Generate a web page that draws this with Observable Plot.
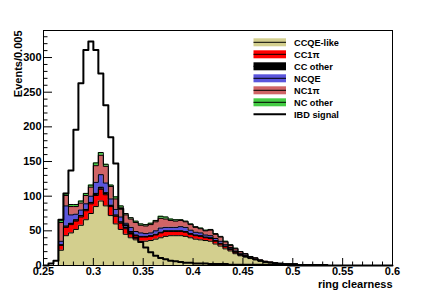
<!DOCTYPE html>
<html><head><meta charset="utf-8">
<script src="https://cdn.jsdelivr.net/npm/d3@7"></script>
<script src="https://cdn.jsdelivr.net/npm/@observablehq/plot@0.6"></script>
<style>body{margin:0;background:#fff}#c{width:436px;height:295px}</style>
</head><body><div id="c"></div>
<script>
// ---- data ----
const binStart = 0.25;
const binWidth = 0.005;
const series = ["CCQE-like", "CC1\u03c0", "CC other", "NCQE", "NC1\u03c0", "NC other"];
const colors = ["#d3cf8e", "#ff0000", "#000000", "#5a55dc", "#d06466", "#44cc44"];
const ccqe    = [0,0,0,22,43,47,52,58,66,75,85,93,86,72,60,52,45,40,37,35,35,36,38,40,42,43,43,43,42,40,38,37,36,35,31,28,24,21,17,14,12,10,8,6,5,4,3,3,2,2,2,1,1,1,1,1,1,0,0,0,0,0,0,0,0,0,0,0,0,0];
const cc1pi   = [0,0,0,7,12,12,12,12,13,14,16,17,16,13,11,9,8,7,6,6,6,6,6,7,7,6,6,6,6,5,5,5,4,4,4,3,3,2,2,1,1,1,1,1,0,0,0,0,0,0,0,0,0,0,0,0,0,0,0,0,0,0,0,0,0,0,0,0,0,0];
const ccother = [0,0,0,1,2,2,2,2,2,2,3,3,3,2,2,2,2,2,1,1,1,1,1,1,1,1,1,1,1,1,1,1,1,1,1,1,1,1,1,1,1,0,0,0,0,0,0,0,0,0,0,0,0,0,0,0,0,0,0,0,0,0,0,0,0,0,0,0,0,0];
const ncqe    = [0,0,0,5,29,12,8,8,8,9,16,18,14,9,8,7,6,6,5,5,4,4,5,6,5,5,5,6,6,5,4,4,3,3,3,3,2,2,1,1,1,0,0,0,0,0,0,0,0,0,0,0,0,0,0,0,0,0,0,0,0,0,0,0,0,0,0,0,0,0];
const nc1pi   = [0,0,0,27,15,12,11,10,12,13,24,28,24,18,15,13,12,12,13,11,11,12,13,14,12,10,9,9,8,8,7,6,6,8,6,6,4,3,3,3,2,2,2,1,1,1,1,0,0,0,0,0,0,0,0,0,0,0,0,0,0,0,0,0,0,0,0,0,0,0];
const ncother = [0,0,0,4,3,3,3,3,3,3,4,4,3,2,3,3,2,2,2,2,2,2,2,3,3,2,2,1,1,1,1,1,1,1,1,1,1,1,1,0,0,0,0,0,0,0,0,0,0,0,0,0,0,0,0,0,0,0,0,0,0,0,0,0,0,0,0,0,0,0];
const ibd     = [0,3,7,66,104,137,196,263,311,323,311,277,231,185,147,82,58,46,40,34,26,19,14,11,9,7,6,5,4,4,3,3,3,2,2,2,2,1,1,1,1,1,1,1,1,1,1,1,1,0,0,0,0,0,0,0,0,0,0,0,0,0,0,0,0,0,0,0,0,0];
const xTicks = [0.25, 0.3, 0.35, 0.4, 0.45, 0.5, 0.55, 0.6];
const yTicks = [0, 50, 100, 150, 200, 250, 300];
const xLabel = "ring clearness";
const yLabel = "Events/0.005";

// ---- build tables ----
const W = 436, H = 295, mL = 43, mR = 44, mT = 30, mB = 30;
const xDom = [0.25, 0.6], yDom = [0, 339];
const pxX = (xDom[1] - xDom[0]) / (W - mL - mR);   // data units per pixel
const pxY = (yDom[1] - yDom[0]) / (H - mT - mB);
const arrays = [ccqe, cc1pi, ccother, ncqe, nc1pi, ncother];
const nb = ibd.length;
const rows = [];
arrays.forEach((arr, s) => {
  for (let i = 0; i <= nb; i++) rows.push({x: binStart + i * binWidth, v: i < nb ? arr[i] : 0, series: series[s]});
});
const ibdRows = [];
for (let i = 0; i <= nb; i++) ibdRows.push({x: binStart + i * binWidth, v: i < nb ? ibd[i] : 0});
const xMinor = d3.range(0, 36).map(i => +(0.25 + i * 0.01).toFixed(3)).filter(v => !xTicks.some(t => Math.abs(t - v) < 1e-9));
const yMinor = d3.range(0, 34).map(i => i * 10).filter(v => v % 50 !== 0);

const font = "'Liberation Sans', Arial, sans-serif";
const chart = Plot.plot({
  width: W, height: H,
  marginLeft: mL, marginRight: mR, marginTop: mT, marginBottom: mB,
  style: {fontFamily: font, background: "white"},
  x: {domain: xDom},
  y: {domain: yDom},
  color: {domain: series, range: colors},
  marks: [
    Plot.areaY(rows, {x: "x", y: "v", fill: "series", curve: "step-after"}),
    Plot.lineY(rows, Plot.stackY2({x: "x", y: "v", z: "series", curve: "step-after", stroke: "black", strokeWidth: 1})),
    Plot.lineY(ibdRows, {x: "x", y: "v", curve: "step-after", stroke: "black", strokeWidth: 2}),
    Plot.frame({stroke: "black", strokeWidth: 1}),
    Plot.ruleY(yTicks, {y: d => d, x1: xDom[0], x2: xDom[0] + 9 * pxX, stroke: "black"}),
    Plot.ruleY(yMinor, {y: d => d, x1: xDom[0], x2: xDom[0] + 4.5 * pxX, stroke: "black"}),
    Plot.ruleX(xTicks, {x: d => d, y1: 0, y2: 7 * pxY, stroke: "black"}),
    Plot.ruleX(xMinor, {x: d => d, y1: 0, y2: 3.5 * pxY, stroke: "black"}),
    Plot.axisY(yTicks, {tickSize: 0, tickPadding: 2, fontSize: 11, fontWeight: "bold", label: null, tickFormat: d => String(d)}),
    Plot.axisX(xTicks, {tickSize: 0, tickPadding: 2, fontSize: 11, fontWeight: "bold", label: null, tickFormat: d => String(d)}),
    Plot.text([xLabel], {frameAnchor: "bottom-right", dy: 22, textAnchor: "end", fontSize: 11, fontWeight: "bold", lineAnchor: "bottom"}),
    Plot.text([yLabel], {frameAnchor: "top-left", dx: -29, textAnchor: "end", rotate: -90, fontSize: 11, fontWeight: "bold"})
  ]
});
document.getElementById("c").appendChild(chart);

// ---- legend (inside the frame, as SVG) ----
const svg = d3.select(chart);
const lg = svg.append("g").attr("font-family", font).attr("font-size", 9.2).attr("font-weight", "bold").attr("text-anchor", "start");
const legendItems = series.map((s, i) => ({label: s, color: colors[i], fill: true})).concat([{label: "IBD signal", fill: false}]);
legendItems.forEach((d, i) => {
  const cy = 42.3 + i * 12;
  const g = lg.append("g");
  if (d.fill) g.append("rect").attr("x", 253.5).attr("y", cy - 4).attr("width", 32.5).attr("height", 8).attr("fill", d.color);
  g.append("line").attr("x1", 253.5).attr("x2", 286).attr("y1", cy).attr("y2", cy).attr("stroke", "black").attr("stroke-width", d.fill ? 1 : 2);
  g.append("text").attr("x", 294).attr("y", cy).attr("dy", "0.35em").attr("text-anchor", "start").text(d.label);
});
</script></body></html>
